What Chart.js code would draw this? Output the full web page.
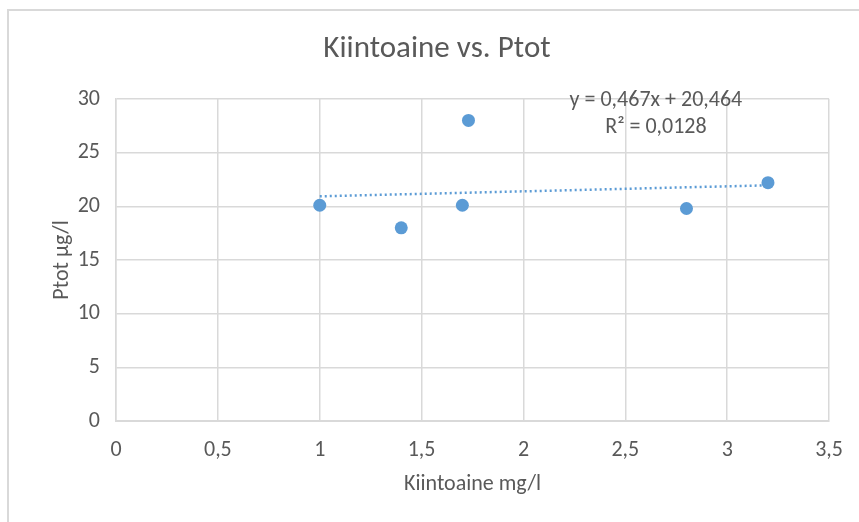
<!DOCTYPE html>
<html>
<head>
<meta charset="utf-8">
<script src="https://cdn.jsdelivr.net/npm/chart.js@4.4.1/dist/chart.umd.min.js"></script>
<style>
    html, body { margin: 0; padding: 0; background: #fff; }
    #wrap { width: 859px; height: 522px; position: relative; }
</style>
</head>
<body>
<div id="wrap"><canvas id="chart"></canvas></div>
<script>
    // Data
    const kiintoaine = [1, 1.4, 1.7, 1.73, 2.8, 3.2];
    const ptot = [20.1, 18, 20.1, 28, 19.8, 22.2];
    // Linear trendline as printed on the chart
    const trendSlope = 0.467;
    const trendIntercept = 20.464;
    const trendRange = [1, 3.2];
    const equationLines = ['y = 0,467x + 20,464', 'R² = 0,0128'];
    const chartTitle = 'Kiintoaine vs. Ptot';

    const FONT = "'Carlito', 'Liberation Sans Narrow', 'Open Sans', sans-serif";
    const TEXT = '#595959';
    const GRID = '#d9d9d9';
    const BLUE = '#5b9bd5';

    const comma = v => String(v).replace('.', ',');

    // Frame around the chart, title and trendline label
    const decorations = {
        id: 'decorations',
        beforeDraw(chart) {
            const ctx = chart.ctx;
            ctx.save();
            ctx.strokeStyle = GRID;
            ctx.lineWidth = 2;
            ctx.beginPath();
            ctx.moveTo(8, 530);
            ctx.lineTo(8, 10);
            ctx.lineTo(870, 10);
            ctx.stroke();

            ctx.fillStyle = TEXT;
            ctx.font = '31px ' + FONT;
            ctx.textAlign = 'center';
            ctx.textBaseline = 'middle';
            ctx.fillText(chartTitle, 437, 49);
            ctx.restore();
        },
        afterDraw(chart) {
            const ctx = chart.ctx;
            const x = chart.scales.x.getPixelForValue(2.65);
            const y = chart.scales.y.getPixelForValue(30);
            ctx.save();
            ctx.fillStyle = TEXT;
            ctx.font = '22px ' + FONT;
            ctx.textAlign = 'center';
            ctx.textBaseline = 'middle';
            ctx.fillText(equationLines[0], x, y + 1);
            ctx.fillText(equationLines[1], x, y + 28);
            ctx.restore();
        }
    };

    new Chart(document.getElementById('chart').getContext('2d'), {
        type: 'scatter',
        data: {
            datasets: [
                {
                    label: 'Ptot',
                    data: kiintoaine.map((k, i) => ({ x: k, y: ptot[i] })),
                    backgroundColor: BLUE,
                    borderColor: BLUE,
                    pointRadius: 6.5,
                    pointBorderWidth: 0,
                    order: 1
                },
                {
                    label: 'Trend',
                    type: 'line',
                    data: trendRange.map(x => ({ x: x, y: trendSlope * x + trendIntercept })),
                    borderColor: BLUE,
                    borderWidth: 2.5,
                    borderDash: [2, 3],
                    pointRadius: 0,
                    fill: false,
                    order: 2
                }
            ]
        },
        options: {
            responsive: true,
            maintainAspectRatio: false,
            animation: false,
            layout: { padding: { left: 0, right: 24, top: 99, bottom: 0 } },
            plugins: {
                legend: { display: false },
                tooltip: { enabled: false },
                title: { display: false }
            },
            scales: {
                x: {
                    type: 'linear',
                    min: 0,
                    max: 3.5,
                    afterFit: s => { s.height = 101; },
                    ticks: {
                        stepSize: 0.5,
                        color: TEXT,
                        padding: 16,
                        font: { family: FONT, size: 22 },
                        callback: v => comma(v)
                    },
                    grid: { color: GRID, lineWidth: 1.5, drawTicks: false },
                    border: { color: GRID, width: 2 },
                    title: {
                        display: true,
                        text: 'Kiintoaine mg/l',
                        color: TEXT,
                        font: { family: FONT, size: 22 },
                        padding: { top: 0, bottom: 24 }
                    }
                },
                y: {
                    min: 0,
                    max: 30,
                    afterFit: s => { s.width = 116; },
                    ticks: {
                        stepSize: 5,
                        color: TEXT,
                        padding: 16,
                        font: { family: FONT, size: 22 }
                    },
                    grid: { color: GRID, lineWidth: 1.5, drawTicks: false },
                    border: { color: GRID, width: 1.5 },
                    title: {
                        display: true,
                        text: 'Ptot µg/l',
                        color: TEXT,
                        font: { family: FONT, size: 22 },
                        padding: { top: 49, bottom: 0 }
                    }
                }
            }
        },
        plugins: [decorations]
    });
</script>
</body>
</html>
